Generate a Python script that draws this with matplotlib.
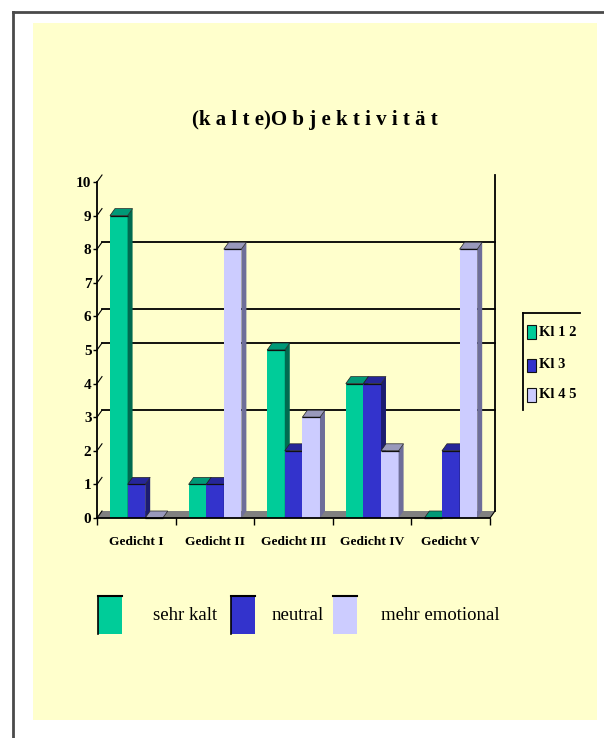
import matplotlib
matplotlib.use("Agg")
import matplotlib.pyplot as plt
from matplotlib.patches import Polygon, Rectangle
from matplotlib.lines import Line2D

# ---- data -------------------------------------------------------------
title = "(k a l t e)O b j e k t i v i t ä t"
categories = ["Gedicht I", "Gedicht II", "Gedicht III", "Gedicht IV", "Gedicht V"]
series_names = ["sehr kalt", "neutral", "mehr emotional"]
side_names = ["Kl 1 2", "Kl 3", "Kl 4 5"]
sehr_kalt = [9, 1, 5, 4, 0]
neutral = [1, 1, 2, 4, 2]
mehr_emotional = [0, 8, 3, 2, 8]
y_ticks = list(range(0, 11))
grid_values = [3, 5, 6, 8]

series = [sehr_kalt, neutral, mehr_emotional]

# ---- styling ----------------------------------------------------------
SERIF = "Liberation Serif"
front_colors = ["#00CC99", "#3333CC", "#CCCCFF"]
side_colors = ["#006B50", "#1C1C70", "#6E6E99"]
top_colors = ["#009977", "#262699", "#9999BB"]
panel_color = "#FFFFCC"
floor_color = "#808080"

W, H = 604, 738
fig = plt.figure(figsize=(W / 100, H / 100), dpi=100, facecolor="white")


def fx(px):
    return px / W


def fy(py):
    return 1 - py / H


# yellow chart area and page border
fig.patches.append(Rectangle((fx(33), fy(720)), fx(597) - fx(33), fy(23) - fy(720),
                             transform=fig.transFigure, facecolor=panel_color,
                             edgecolor="none", zorder=-5))
fig.lines.append(Line2D([fx(13), fx(13)], [0, fy(12)], transform=fig.transFigure,
                        color="#4a4a4a", lw=2))
fig.lines.append(Line2D([fx(13), 1], [fy(12), fy(12)], transform=fig.transFigure,
                        color="#4a4a4a", lw=2))

# plot area (front plane of the 3-D box)
left, right, bottom, top = 97, 490, 518, 182
ax = fig.add_axes([fx(left), fy(bottom), fx(right) - fx(left), fy(top) - fy(bottom)])
ax.patch.set_alpha(0)
n_cat = len(categories)
ax.set_xlim(0, n_cat)
ax.set_ylim(0, 10)

# depth of the 3-D projection, in data units
px_x = (right - left) / n_cat
px_y = (bottom - top) / 10
dx = 5 / px_x
dy = 7 / px_y

# floor
ax.add_patch(Polygon([(0, 0), (n_cat, 0), (n_cat + dx, dy), (dx, dy)],
                     closed=True, facecolor=floor_color, edgecolor="none",
                     zorder=1, clip_on=False))

# back wall gridlines, side-wall diagonals, right wall edge
for v in grid_values:
    ax.plot([dx, n_cat + dx], [v + dy, v + dy], color="black", lw=1.3,
            zorder=1.5, clip_on=False)
for v in y_ticks:
    ax.plot([0, dx], [v, v + dy], color="black", lw=0.8, zorder=1.5, clip_on=False)
ax.plot([n_cat + dx, n_cat + dx], [dy, 10 + dy], color="black", lw=1.3,
        zorder=1.5, clip_on=False)
ax.plot([n_cat, n_cat + dx], [0, dy], color="black", lw=0.8, zorder=1.5, clip_on=False)

# 3-D bars
offset0, bar_w = 0.165, 0.224
for k, vals in enumerate(series):
    z = 3 + k
    xs = [i + offset0 + k * bar_w for i in range(n_cat)]
    ax.bar(xs, vals, width=bar_w, align="edge", color=front_colors[k],
           edgecolor="none", zorder=z)
    for x0, h in zip(xs, vals):
        x1 = x0 + bar_w
        if h > 0:
            ax.add_patch(Polygon([(x1, 0), (x1 + dx, dy), (x1 + dx, h + dy), (x1, h)],
                                 closed=True, facecolor=side_colors[k],
                                 edgecolor="none", zorder=z, clip_on=False))
        ax.add_patch(Polygon([(x0, h), (x1, h), (x1 + dx, h + dy), (x0 + dx, h + dy)],
                             closed=True, facecolor=top_colors[k],
                             edgecolor="#222222", lw=0.5, zorder=z, clip_on=False))
        ax.plot([x0, x1], [h, h], color="#111111", lw=0.9, zorder=z + 0.5,
                clip_on=False, solid_capstyle="butt")

# axes, ticks and labels
for s in ("top", "right"):
    ax.spines[s].set_visible(False)
for s in ("left", "bottom"):
    ax.spines[s].set_color("black")
    ax.spines[s].set_linewidth(1.3)
    ax.spines[s].set_zorder(8)

ax.set_yticks(y_ticks)
ax.set_yticklabels([str(v) for v in y_ticks], fontfamily=SERIF, fontweight="bold",
                   fontsize=11)
ax.tick_params(axis="y", length=3, width=1, pad=1, colors="black")

ax.set_xticks([i + 0.5 for i in range(n_cat)])
ax.set_xticklabels(categories, fontfamily=SERIF, fontweight="bold", fontsize=9.7)
ax.set_xticks(range(n_cat + 1), minor=True)
ax.tick_params(axis="x", which="major", length=0, pad=13)
ax.tick_params(axis="x", which="minor", length=5, width=1, colors="black")

# title
fig.text(fx(315), fy(120), title, ha="center", va="center", fontfamily=SERIF,
         fontweight="bold", fontsize=15)

# side legend
fig.lines.append(Line2D([fx(523), fx(523)], [fy(410), fy(313)],
                        transform=fig.transFigure, color="black", lw=1.3))
fig.lines.append(Line2D([fx(523), fx(580)], [fy(313), fy(313)],
                        transform=fig.transFigure, color="black", lw=1.3))
side_rows = [332, 365, 395]
for k, (name, yc) in enumerate(zip(side_names, side_rows)):
    fig.patches.append(Rectangle((fx(527), fy(yc + 6.5)), fx(536) - fx(527),
                                 fy(yc - 6.5) - fy(yc + 6.5),
                                 transform=fig.transFigure,
                                 facecolor=front_colors[k], edgecolor="#111111", lw=0.8))
    fig.text(fx(539), fy(yc), name, ha="left", va="center", fontfamily=SERIF,
             fontweight="bold", fontsize=10.5)

# bottom legend
swatch_left = [98, 231, 333]
label_center = [185, 298, 440]
for k, name in enumerate(series_names):
    x0 = swatch_left[k]
    fig.patches.append(Rectangle((fx(x0), fy(634)), fx(x0 + 24) - fx(x0), fy(596) - fy(634),
                                 transform=fig.transFigure,
                                 facecolor=front_colors[k], edgecolor="none"))
    fig.lines.append(Line2D([fx(x0), fx(x0 + 24)], [fy(596), fy(596)],
                            transform=fig.transFigure, color="black", lw=1.5))
    if k < 2:
        fig.lines.append(Line2D([fx(x0), fx(x0)], [fy(596), fy(634)],
                                transform=fig.transFigure, color="black", lw=1.2))
    fig.text(fx(label_center[k]), fy(616), name, ha="center", va="center",
             fontfamily=SERIF, fontsize=13.5)

fig.savefig("out.png", dpi=100, facecolor="white")
